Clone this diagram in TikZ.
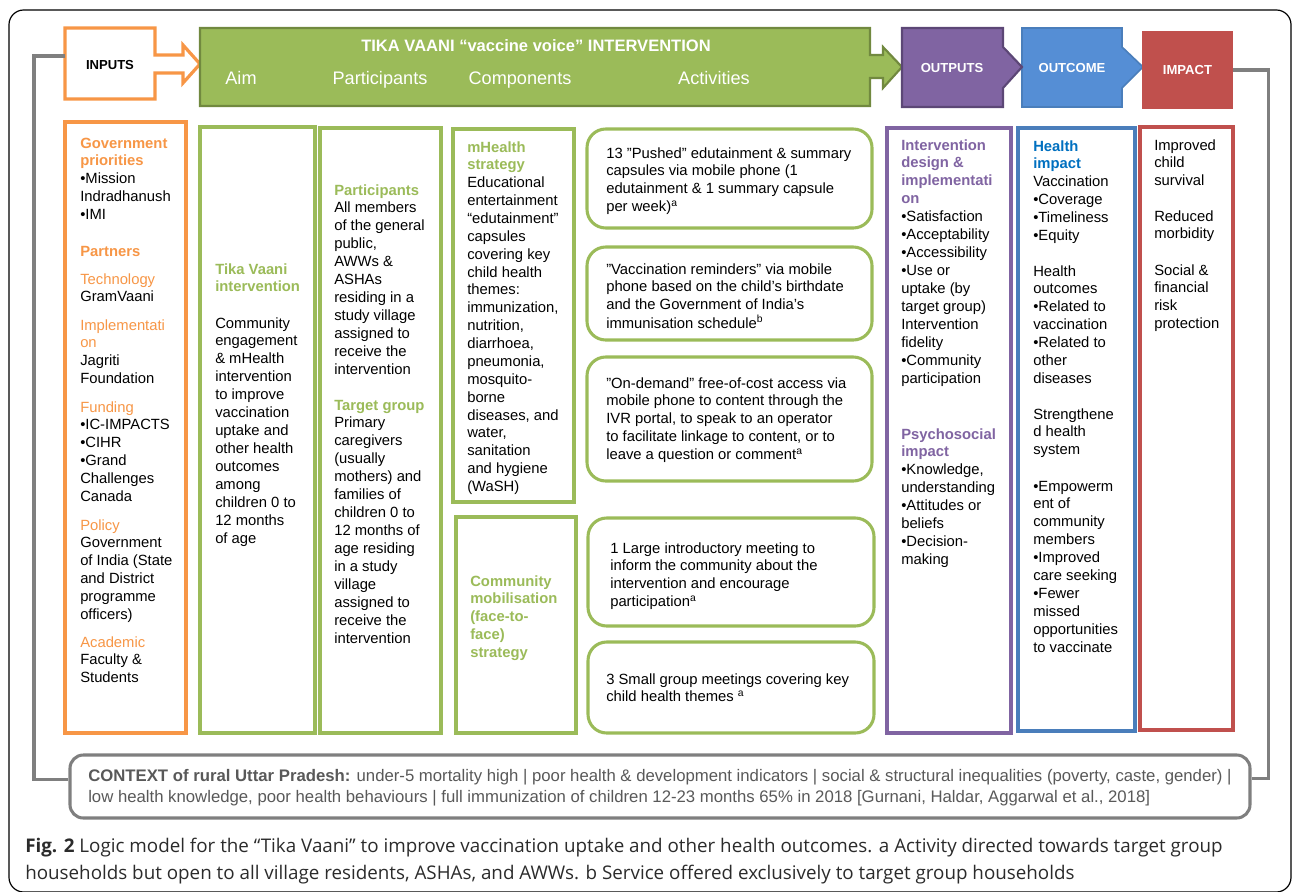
\documentclass[tikz,border=0pt]{standalone}
\usepackage{fontspec}
\setmainfont{Liberation Sans}
\newfontfamily\capfont{Open Sans}
\usetikzlibrary{fit}
\definecolor{cOrange}{HTML}{F79646}
\definecolor{cGreen}{HTML}{9BBB59}
\definecolor{cGreenD}{HTML}{71893F}
\definecolor{cPurple}{HTML}{8064A2}
\definecolor{cPurpleD}{HTML}{5C4776}
\definecolor{cBlue}{HTML}{558ED5}
\definecolor{cBlueD}{HTML}{4A7EBB}
\definecolor{cBlueT}{HTML}{0070C0}
\definecolor{cRed}{HTML}{C0504D}
\definecolor{cGray}{HTML}{7F7F7F}
\definecolor{cCtx}{HTML}{595959}
\definecolor{cCap}{HTML}{2B2B2B}
\newcommand\ho[1]{\textcolor{cOrange}{\bfseries #1}}
\newcommand\oo[1]{\textcolor{cOrange}{#1}}
\newcommand\hg[1]{\textcolor{cGreen}{\bfseries #1}}
\newcommand\hp[1]{\textcolor{cPurple}{\bfseries #1}}
\newcommand\hb[1]{\textcolor{cBlueT}{\bfseries #1}}
\newcommand\sups[1]{\textsuperscript{#1}}
\newcommand\tl[1]{\begin{tabular}[t]{@{}l@{}}#1\end{tabular}}
\begin{document}
\begin{tikzpicture}[x=0.75pt,y=-0.75pt,
  txt/.style={anchor=base west, inner sep=0pt, font=\fontsize{11.1}{13.45}\selectfont},
  colbox/.style={draw, line width=2.3pt, inner sep=0pt, fill=white},
  actbox/.style={draw=cGreen, line width=2.3pt, inner sep=0pt, rounded corners=14pt},
  hdr/.style={text=white, inner sep=0pt, anchor=base, font=\fontsize{13.6}{16}\selectfont},
  lbl/.style={inner sep=0pt, font=\fontsize{9.8}{12}\selectfont\bfseries},
  conn/.style={draw=cGray, line width=2.3pt},
]
\useasboundingbox (0,0) rectangle (1292,892);
\draw[black, line width=0.9pt, rounded corners=11pt] (9,10) rectangle (1291,892);

% ---------- top arrows ----------
\draw[cOrange, line width=2.4pt, fill=white] (65,28) -- (155,28) -- (155,55) -- (183,55) -- (183,45) -- (200,64) -- (183,83) -- (183,73) -- (155,73) -- (155,99) -- (65,99) -- cycle;
\node[lbl] (inputs) at (110,65) {INPUTS};
\draw[cGreenD, line width=1.6pt, fill=cGreen] (200,28) -- (870,28) -- (870,55) -- (883,55) -- (883,47) -- (902,67) -- (883,88) -- (883,78) -- (870,78) -- (870,106) -- (200,106) -- cycle;
\node[hdr, font=\fontsize{12.4}{15}\selectfont\bfseries] (title) at (536,52) {TIKA VAANI “vaccine voice” INTERVENTION};
\node[hdr] (hAim) at (241,84.5) {Aim};
\node[hdr] (hPart) at (380,84.5) {Participants};
\node[hdr] (hComp) at (520,84.5) {Components};
\node[hdr] (hAct) at (714,84.5) {Activities};
\draw[cBlueD, line width=1.2pt, fill=cBlue] (1022,28) -- (1122,28) -- (1122,47) -- (1143,67) -- (1122,88) -- (1122,107) -- (1022,107) -- cycle;
\draw[cPurpleD, line width=1.6pt, fill=cPurple] (902,28) -- (1003,28) -- (1003,47) -- (1022,67) -- (1003,88) -- (1003,107) -- (902,107) -- cycle;
\node[lbl, text=white] (outputs) at (952,68) {OUTPUTS};
\node[lbl, text=white] (outcome) at (1072,68) {OUTCOME};
\node[lbl, text=white, fill=cRed, minimum width=68.25pt, minimum height=58.5pt] (impact) at (1187.5,70) {IMPACT};

% ---------- columns ----------
\node[colbox, draw=cOrange, line width=2.6pt, fit={(65,122)(186,733)}] (colIn) {};
\node[colbox, draw=cGreen, fit={(200,127)(315,733)}] (colAim) {};
\node[colbox, draw=cGreen, fit={(320,128)(441,733)}] (colPart) {};
\node[colbox, draw=cGreen, fit={(453,129)(574,502)}] (colMH) {};
\node[colbox, draw=cGreen, fit={(456,517)(576,733)}] (colCM) {};
\node[actbox, fit={(587,129)(872,228)}] (act1) {};
\node[actbox, fit={(587,247)(872,340)}] (act2) {};
\node[actbox, fit={(587,357)(872,481)}] (act3) {};
\node[actbox, fit={(588,518)(874,626)}] (act4) {};
\node[actbox, fit={(588,642)(874,733)}] (act5) {};
\node[colbox, draw=cPurple, fit={(887,128)(1011,733)}] (colOut) {};
\node[colbox, draw=cBlueD, fit={(1018,128)(1135,731)}] (colOc) {};
\node[colbox, draw=cRed, fit={(1140,127)(1233,730)}] (colImp) {};

% ---------- inputs text ----------
\node[txt] (i1) at (80,148) {\tl{\ho{Government}\\\ho{priorities}\\•Mission\\Indradhanush\\•IMI}};
\node[txt] (i2) at (80,256) {\tl{\ho{Partners}}};
\node[txt] (i3) at (80,284) {\tl{\oo{Technology}\\GramVaani}};
\node[txt] (i4) at (80,330) {\tl{\oo{Implementati}\\\oo{on}\\Jagriti\\Foundation}};
\node[txt] (i5) at (80,412) {\tl{\oo{Funding}\\•IC-IMPACTS\\•CIHR\\•Grand\\Challenges\\Canada}};
\node[txt] (i6) at (80,530) {\tl{\oo{Policy}\\Government\\of India (State\\and District\\programme\\officers)}};
\node[txt] (i7) at (80,647) {\tl{\oo{Academic}\\Faculty \&\\Students}};

% ---------- aim ----------
\node[txt] (a1) at (215,274) {\tl{\hg{Tika Vaani}\\\hg{intervention}}};
\node[txt] (a2) at (215,328) {\tl{Community\\engagement\\\& mHealth\\intervention\\to improve\\vaccination\\uptake and\\other health\\outcomes\\among\\children 0 to\\12 months\\of age}};

% ---------- participants ----------
\node[txt] (p1) at (334,195) {\tl{\hg{Participants}\\All members\\of the general\\public,\\AWWs \&\\ASHAs\\residing in a\\study village\\assigned to\\receive the\\intervention}};
\node[txt] (p2) at (334,410) {\tl{\hg{Target group}\\Primary\\caregivers\\(usually\\mothers) and\\families of\\children 0 to\\12 months of\\age residing\\in a study\\village\\assigned to\\receive the\\intervention}};

% ---------- components ----------
\node[txt, font=\fontsize{11.1}{13.4}\selectfont] (m1) at (467,152) {\tl{\hg{mHealth}\\\hg{strategy}\\Educational\\entertainment\\“edutainment”\\capsules\\covering key\\child health\\themes:\\immunization,\\nutrition,\\diarrhoea,\\pneumonia,\\mosquito-\\borne\\diseases, and\\water,\\sanitation\\and hygiene\\(WaSH)}};
\node[txt] (c1) at (470,586) {\tl{\hg{Community}\\\hg{mobilisation}\\\hg{(face-to-}\\\hg{face)}\\\hg{strategy}}};

% ---------- activities ----------
\node[txt] (t1) at (606,158) {\tl{13 ”Pushed” edutainment \& summary\\capsules via mobile phone (1\\edutainment \& 1 summary capsule\\per week)\sups{a}}};
\node[txt] (t2) at (606,274) {\tl{”Vaccination reminders” via mobile\\phone based on the child’s birthdate\\and the Government of India’s\\immunisation schedule\sups{b}}};
\node[txt] (t3) at (606,388) {\tl{”On-demand” free-of-cost access via\\mobile phone to content through the\\IVR portal, to speak to an operator\\to facilitate linkage to content, or to\\leave a question or comment\sups{a}}};
\node[txt] (t4) at (610,553) {\tl{1 Large introductory meeting to\\inform the community about the\\intervention and encourage\\participation\sups{a}}};
\node[txt] (t5) at (606,684) {\tl{3 Small group meetings covering key\\child health themes \sups{a}}};

% ---------- outputs ----------
\node[txt] (o1) at (901,150) {\tl{\hp{Intervention}\\\hp{design \&}\\\hp{implementati}\\\hp{on}\\•Satisfaction\\•Acceptability\\•Accessibility\\•Use or\\uptake (by\\target group)\\Intervention\\fidelity\\•Community\\participation}};
\node[txt] (o2) at (901,439) {\tl{\hp{Psychosocial}\\\hp{impact}\\•Knowledge,\\understanding\\•Attitudes or\\beliefs\\•Decision-\\making}};

% ---------- outcome ----------
\node[txt] (u1) at (1033,151) {\tl{\hb{Health}\\\hb{impact}\\Vaccination\\•Coverage\\•Timeliness\\•Equity}};
\node[txt] (u2) at (1033,276) {\tl{Health\\outcomes\\•Related to\\vaccination\\•Related to\\other\\diseases}};
\node[txt] (u3) at (1033,419) {\tl{Strengthene\\d health\\system}};
\node[txt] (u4) at (1033,491) {\tl{•Empowerm\\ent of\\community\\members\\•Improved\\care seeking\\•Fewer\\missed\\opportunities\\to vaccinate}};

% ---------- impact ----------
\node[txt] (m2) at (1154,150) {\tl{Improved\\child\\survival}};
\node[txt] (m3) at (1154,221) {\tl{Reduced\\morbidity}};
\node[txt] (m4) at (1154,275) {\tl{Social \&\\financial\\risk\\protection}};

% ---------- context ----------
\node[draw=cGray, line width=2.3pt, rounded corners=10pt, fill=white, minimum width=885pt, minimum height=47.25pt, inner sep=0pt] (ctx) at (660,786.5) {};
\node[txt, text=cCtx, font=\fontsize{12.55}{15.75}\selectfont] (ctxt) at (88,781) {\tl{\textbf{CONTEXT of rural Uttar Pradesh:} under-5 mortality high | poor health \& development indicators | social \& structural inequalities (poverty, caste, gender) |\\low health knowledge, poor health behaviours | full immunization of children 12-23 months 65\% in 2018 [Gurnani, Haldar, Aggarwal et al., 2018]}};

\coordinate (inL) at (65,56);
\coordinate (impR) at (impact.east);
\draw[conn] (inL) -- ++(-31,0) |- ([yshift=5pt]ctx.west);
\draw[conn] (impR) -- ++(35,0) |- ([yshift=6pt]ctx.east);

% ---------- caption ----------
\node[txt, text=cCap, font=\capfont\fontsize{14.1}{20.25}\selectfont] (caption) at (25,852) {\tl{\textbf{Fig. 2} Logic model for the “Tika Vaani” to improve vaccination uptake and other health outcomes. a Activity directed towards target group\\households but open to all village residents, ASHAs, and AWWs. b Service offered exclusively to target group households}};
\end{tikzpicture}
\end{document}
